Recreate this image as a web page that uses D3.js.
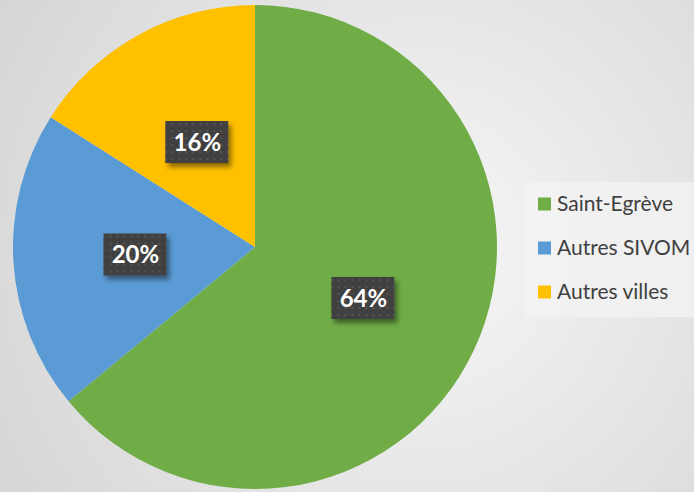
<!DOCTYPE html>
<html>
<head>
<meta charset="utf-8">
<script src="https://cdn.jsdelivr.net/npm/d3@7"></script>
<style>
  html, body { margin: 0; padding: 0; }
  body { width: 694px; height: 492px; overflow: hidden; }
</style>
</head>
<body>
<div id="chart"></div>
<script>
const categories = ["Saint-Egrève", "Autres SIVOM", "Autres villes"];
const values = [64, 20, 16];
const colors = ["#70ad47", "#5b9bd5", "#ffc000"];

const width = 694, height = 492;
const cx = 255, cy = 247, radius = 242;

const svg = d3.select("#chart").append("svg")
  .attr("width", width)
  .attr("height", height);

const defs = svg.append("defs");

const bg = defs.append("radialGradient")
  .attr("id", "bg")
  .attr("gradientUnits", "userSpaceOnUse")
  .attr("cx", 420).attr("cy", 250).attr("r", 480);
bg.append("stop").attr("offset", "0%").attr("stop-color", "#f7f7f7");
bg.append("stop").attr("offset", "100%").attr("stop-color", "#d6d6d6");

const pat = defs.append("pattern")
  .attr("id", "dots")
  .attr("patternUnits", "userSpaceOnUse")
  .attr("width", 7).attr("height", 7);
pat.append("rect").attr("width", 7).attr("height", 7).attr("fill", "#404040");
pat.append("rect").attr("x", 2).attr("y", 2).attr("width", 2).attr("height", 2).attr("fill", "#555555");

const shadow = defs.append("filter").attr("id", "shadow")
  .attr("x", "-30%").attr("y", "-30%").attr("width", "160%").attr("height", "160%");
shadow.append("feDropShadow")
  .attr("dx", 3).attr("dy", 4).attr("stdDeviation", 2.5)
  .attr("flood-color", "#000").attr("flood-opacity", 0.45);

svg.append("rect").attr("width", width).attr("height", height).attr("fill", "url(#bg)");

const data = categories.map((c, i) => ({ name: c, value: values[i], color: colors[i] }));

const pie = d3.pie().value(d => d.value).sort(null);
const arcs = pie(data);
const arc = d3.arc().innerRadius(0).outerRadius(radius);
const labelArc = d3.arc().innerRadius(radius * 0.495).outerRadius(radius * 0.495);

const g = svg.append("g").attr("transform", `translate(${cx},${cy})`);

g.selectAll("path")
  .data(arcs)
  .enter()
  .append("path")
  .attr("d", arc)
  .attr("fill", d => d.data.color);

const labels = g.selectAll("g.lbl")
  .data(arcs)
  .enter()
  .append("g")
  .attr("class", "lbl")
  .attr("transform", d => `translate(${labelArc.centroid(d)})`);

labels.append("rect")
  .attr("x", -32).attr("y", -21)
  .attr("width", 63).attr("height", 42)
  .attr("fill", "url(#dots)")
  .attr("filter", "url(#shadow)");

labels.append("text")
  .attr("text-anchor", "middle")
  .attr("dy", "0.36em")
  .attr("fill", "#ffffff")
  .attr("font-family", "Lato, 'Open Sans', sans-serif")
  .attr("font-weight", "bold")
  .attr("font-size", 24)
  .text(d => d.data.value + "%");

// legend
const legend = svg.append("g");
legend.append("rect")
  .attr("x", 525).attr("y", 182)
  .attr("width", 175).attr("height", 135)
  .attr("fill", "#f3f3f3")
  .attr("opacity", 0.8);

const items = legend.selectAll("g.item")
  .data(data)
  .enter()
  .append("g")
  .attr("class", "item")
  .attr("transform", (d, i) => `translate(538,${204 + i * 44})`);

items.append("rect")
  .attr("x", 0).attr("y", -6.5)
  .attr("width", 13).attr("height", 13)
  .attr("fill", d => d.color);

items.append("text")
  .attr("x", 19)
  .attr("dy", "0.35em")
  .attr("fill", "#404040")
  .attr("font-family", "Lato, 'Open Sans', sans-serif")
  .attr("font-size", 21)
  .text(d => d.name);
</script>
</body>
</html>
